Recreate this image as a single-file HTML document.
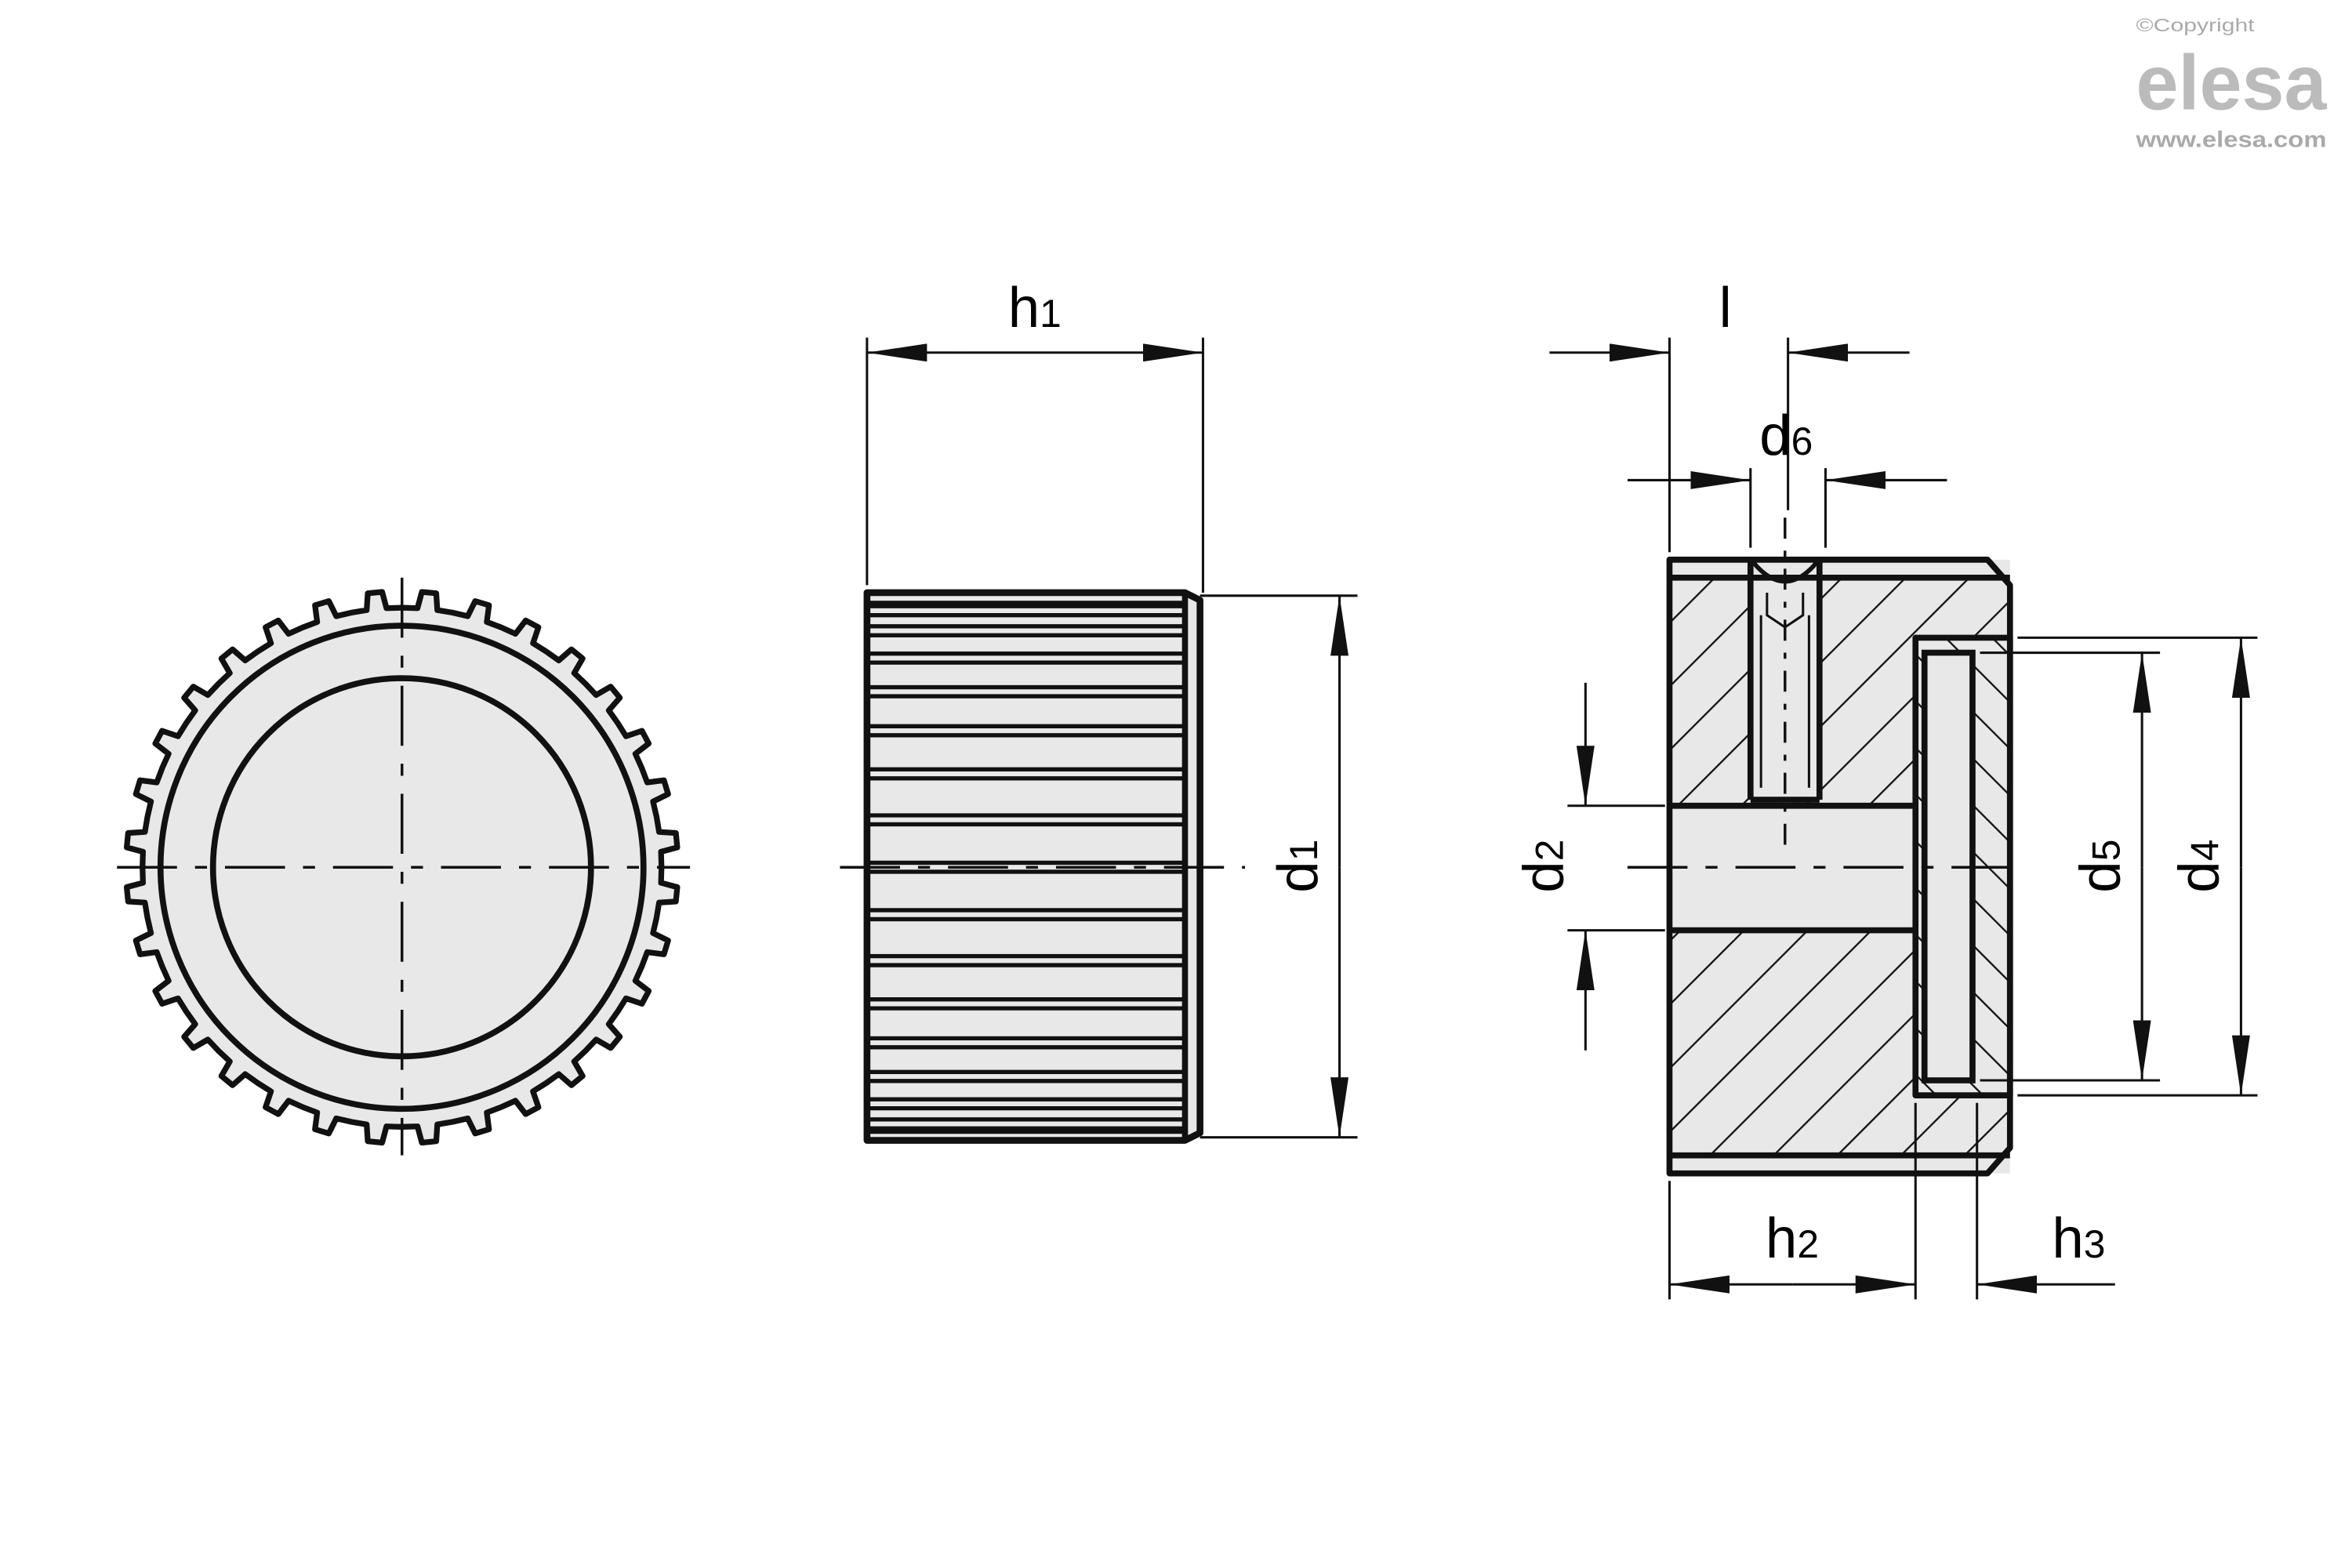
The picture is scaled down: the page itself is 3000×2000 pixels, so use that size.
<!DOCTYPE html>
<html><head><meta charset="utf-8"><style>
html,body{margin:0;padding:0;background:#fff;}
svg{display:block;}
text{font-family:"Liberation Sans",sans-serif;}
</style></head><body>
<svg id="s" width="3000" height="2000" viewBox="0 0 1568 1045" preserveAspectRatio="none" xmlns="http://www.w3.org/2000/svg">
<defs>
<pattern id="hatch" patternUnits="userSpaceOnUse" width="30" height="30" patternTransform="rotate(45)">
<rect width="30" height="30" fill="#e8e8e8"/><line x1="0" y1="0" x2="0" y2="30" stroke="#111" stroke-width="2.4"/>
</pattern>
<pattern id="hatch2" patternUnits="userSpaceOnUse" width="22" height="22" patternTransform="rotate(-45)">
<rect width="22" height="22" fill="#e8e8e8"/><line x1="0" y1="0" x2="0" y2="22" stroke="#111" stroke-width="2.4"/>
</pattern>
<marker id="ar" viewBox="0 0 40 12" refX="40" refY="6" markerWidth="40" markerHeight="12" markerUnits="userSpaceOnUse" orient="auto"><path d="M0,0 L40,6 L0,12 Z" fill="#111"/></marker>
</defs>
<rect width="1568" height="1045" fill="#fff"/>

<!-- logo -->
<text x="1424" y="21" font-size="12" fill="#aaa" textLength="79" lengthAdjust="spacingAndGlyphs">©Copyright</text>
<text x="1424" y="73" font-size="52" font-weight="bold" fill="#bbb" textLength="127" lengthAdjust="spacingAndGlyphs">elesa</text>
<text x="1424" y="98" font-size="15" font-weight="bold" fill="#aaa" textLength="127" lengthAdjust="spacingAndGlyphs">www.elesa.com</text>

<!-- LEFT VIEW -->
<path id="gear" fill="#e8e8e8" stroke="#111" stroke-width="3.8" stroke-linejoin="round"/>
<circle cx="268" cy="578" r="161" fill="#e8e8e8" stroke="#111" stroke-width="4"/>
<circle cx="268" cy="578" r="126" fill="#e8e8e8" stroke="#111" stroke-width="4"/>
<line x1="78" y1="578" x2="460" y2="578" stroke="#111" stroke-width="1.8" stroke-dasharray="40,12,8,12"/>
<line x1="268" y1="385" x2="268" y2="770" stroke="#111" stroke-width="1.8" stroke-dasharray="40,12,8,12"/>

<!-- MIDDLE VIEW -->
<rect x="578" y="395" width="212" height="365" fill="#e8e8e8"/>
<polygon points="790,395 800,400 800,755 790,760" fill="#e8e8e8"/>
<g id="ribs" stroke="#111" stroke-width="2.8"></g>
<path d="M578,395 H790 L800,400 V755 L790,760 H578 Z" fill="none" stroke="#111" stroke-width="4.5" stroke-linejoin="round"/>
<line x1="790" y1="395" x2="790" y2="760" stroke="#111" stroke-width="4"/>
<line x1="560" y1="578" x2="830" y2="578" stroke="#111" stroke-width="1.8" stroke-dasharray="40,12,8,12"/>
<!-- h1 -->
<line x1="578" y1="390" x2="578" y2="225" stroke="#111" stroke-width="1.6"/>
<line x1="802" y1="395" x2="802" y2="225" stroke="#111" stroke-width="1.6"/>
<line x1="640" y1="235" x2="578" y2="235" stroke="#111" stroke-width="1.6" marker-end="url(#ar)"/>
<line x1="640" y1="235" x2="802" y2="235" stroke="#111" stroke-width="1.6" marker-end="url(#ar)"/>
<text x="672" y="218" font-size="38">h<tspan font-size="26">1</tspan></text>
<!-- d1 -->
<line x1="800" y1="397" x2="905" y2="397" stroke="#111" stroke-width="1.6"/>
<line x1="800" y1="758" x2="905" y2="758" stroke="#111" stroke-width="1.6"/>
<line x1="893" y1="578" x2="893" y2="397" stroke="#111" stroke-width="1.6" marker-end="url(#ar)"/>
<line x1="893" y1="578" x2="893" y2="758" stroke="#111" stroke-width="1.6" marker-end="url(#ar)"/>
<text transform="translate(878,595) rotate(-90)" font-size="38">d<tspan font-size="26">1</tspan></text>

<!-- RIGHT VIEW -->
<path d="M1113,373 H1325 L1340,390 V765 L1325,782 H1113 Z" fill="url(#hatch)"/>
<rect x="1113" y="373" width="227" height="12" fill="#e8e8e8"/>
<rect x="1113" y="770" width="227" height="12" fill="#e8e8e8"/>
<rect x="1113" y="537" width="164" height="83" fill="#e8e8e8"/>
<rect x="1167" y="385" width="46" height="148" fill="#e8e8e8"/>
<rect x="1277" y="425" width="63" height="305" fill="url(#hatch2)"/>
<rect x="1283" y="435" width="32" height="285" fill="#e8e8e8" stroke="#111" stroke-width="4"/>
<g stroke="#111" stroke-width="4" fill="none" stroke-linejoin="round">
<path d="M1113,373 H1325 L1340,390 V765 L1325,782 H1113 Z"/>
<line x1="1113" y1="385" x2="1340" y2="385"/>
<line x1="1113" y1="770" x2="1340" y2="770"/>
<line x1="1113" y1="537" x2="1277" y2="537"/>
<line x1="1113" y1="620" x2="1277" y2="620"/>
<rect x="1277" y="425" width="63" height="305"/>
<line x1="1167" y1="373" x2="1167" y2="533"/>
<line x1="1213" y1="373" x2="1213" y2="533"/>
<line x1="1167" y1="533" x2="1213" y2="533"/>
<path d="M1169,375 Q1190,400 1211,375" stroke-width="3"/>
</g>
<g stroke="#111" stroke-width="1.6" fill="none">
<line x1="1174" y1="410" x2="1174" y2="525"/>
<line x1="1206" y1="410" x2="1206" y2="525"/>
<path d="M1178,395 V410 L1190,418 L1202,410 V395"/>
</g>
<line x1="1190" y1="345" x2="1190" y2="570" stroke="#111" stroke-width="1.8" stroke-dasharray="14,8,4,8"/>
<line x1="1085" y1="578" x2="1350" y2="578" stroke="#111" stroke-width="1.8" stroke-dasharray="40,12,8,12"/>
<g stroke="#111" stroke-width="1.6">
<line x1="1113" y1="368" x2="1113" y2="225"/>
<line x1="1192" y1="340" x2="1192" y2="225"/>
<line x1="1167" y1="365" x2="1167" y2="312"/>
<line x1="1217" y1="365" x2="1217" y2="312"/>
<line x1="1033" y1="235" x2="1113" y2="235" marker-end="url(#ar)"/>
<line x1="1273" y1="235" x2="1192" y2="235" marker-end="url(#ar)"/>
<line x1="1085" y1="320" x2="1167" y2="320" marker-end="url(#ar)"/>
<line x1="1298" y1="320" x2="1217" y2="320" marker-end="url(#ar)"/>
<line x1="1045" y1="537" x2="1110" y2="537"/>
<line x1="1045" y1="620" x2="1110" y2="620"/>
<line x1="1057" y1="455" x2="1057" y2="537" marker-end="url(#ar)"/>
<line x1="1057" y1="700" x2="1057" y2="620" marker-end="url(#ar)"/>
<line x1="1320" y1="435" x2="1440" y2="435"/>
<line x1="1320" y1="720" x2="1440" y2="720"/>
<line x1="1345" y1="425" x2="1505" y2="425"/>
<line x1="1345" y1="730" x2="1505" y2="730"/>
<line x1="1428" y1="578" x2="1428" y2="435" marker-end="url(#ar)"/>
<line x1="1428" y1="578" x2="1428" y2="720" marker-end="url(#ar)"/>
<line x1="1494" y1="578" x2="1494" y2="425" marker-end="url(#ar)"/>
<line x1="1494" y1="578" x2="1494" y2="730" marker-end="url(#ar)"/>
<line x1="1113" y1="787" x2="1113" y2="866"/>
<line x1="1277" y1="735" x2="1277" y2="866"/>
<line x1="1318" y1="735" x2="1318" y2="866"/>
<line x1="1195" y1="856" x2="1113" y2="856" marker-end="url(#ar)"/>
<line x1="1195" y1="856" x2="1277" y2="856" marker-end="url(#ar)"/>
<line x1="1410" y1="856" x2="1318" y2="856" marker-end="url(#ar)"/>
</g>
<text x="1146" y="218" font-size="38">l</text>
<text x="1173" y="303" font-size="38">d<tspan font-size="26">6</tspan></text>
<text transform="translate(1042,595) rotate(-90)" font-size="38">d<tspan font-size="26">2</tspan></text>
<text transform="translate(1413,595) rotate(-90)" font-size="38">d<tspan font-size="26">5</tspan></text>
<text transform="translate(1479,595) rotate(-90)" font-size="38">d<tspan font-size="26">4</tspan></text>
<text x="1177" y="838" font-size="38">h<tspan font-size="26">2</tspan></text>
<text x="1368" y="838" font-size="38">h<tspan font-size="26">3</tspan></text>
</svg>
<script>
(function(){
var cx=268,cy=578,ro=184,ri=173,n=32,d="",p=360/n;
function pt(r,a){a=a*Math.PI/180;return (cx+r*Math.sin(a)).toFixed(2)+","+(cy-r*Math.cos(a)).toFixed(2);}
for(var i=0;i<n;i++){var a=i*p+p/2;
 d+=(i?"L":"M")+pt(ri,a-p/2)+" L"+pt(ri,a-2.2)+" L"+pt(ro,a-1.5)+" L"+pt(ro,a+1.5)+" L"+pt(ri,a+2.2)+" ";}
d+="Z";document.getElementById("gear").setAttribute("d",d);
var g=document.getElementById("ribs"),ns="http://www.w3.org/2000/svg";
for(var t=-80;t<=80;t+=10){var y=578-182*Math.sin(t*Math.PI/180);
 [y-3,y+3].forEach(function(yy){if(yy<400||yy>755)return;var l=document.createElementNS(ns,"line");
 l.setAttribute("x1",580);l.setAttribute("x2",790);l.setAttribute("y1",yy);l.setAttribute("y2",yy);g.appendChild(l);});}
})();
</script>
</body></html>
